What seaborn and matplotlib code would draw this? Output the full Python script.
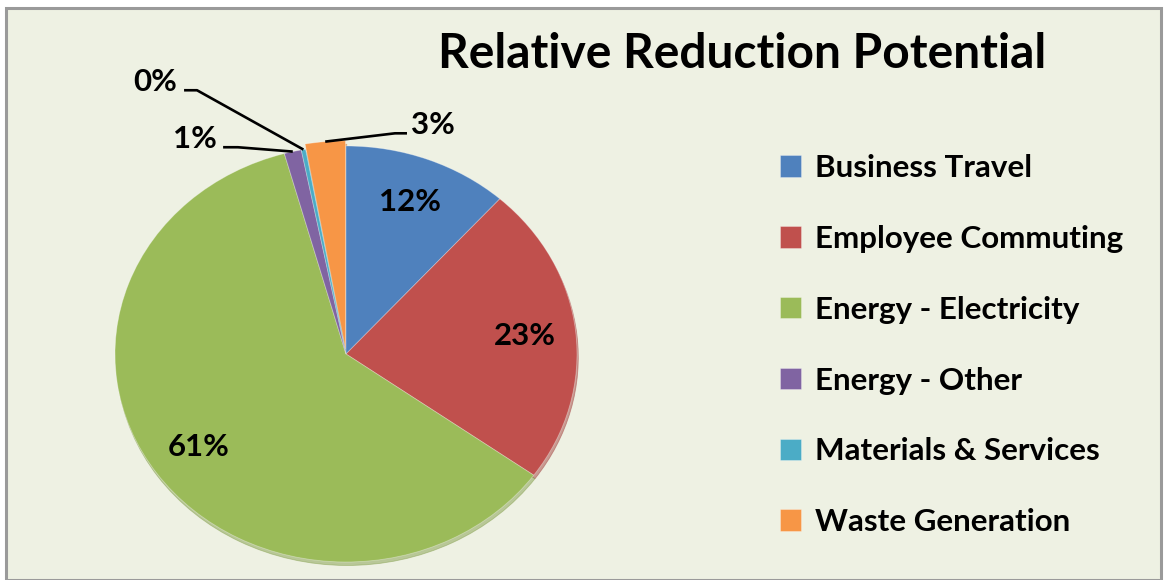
import numpy as np
import matplotlib
matplotlib.use("Agg")
import matplotlib.pyplot as plt
from matplotlib.patches import Rectangle
import seaborn as sns

# Relative reduction potential by emission category (percent)
categories = ["Business Travel", "Employee Commuting", "Energy - Electricity",
              "Energy - Other", "Materials & Services", "Waste Generation"]
shares = [11.6, 23.3, 60.8, 1.2, 0.3, 2.8]
slice_colors = ["#4F81BD", "#C0504D", "#9BBB59", "#8064A2", "#4BACC6", "#F79646"]
title_text = "Relative Reduction Potential"

sns.set_theme(style="white")
plt.rcParams["font.family"] = ["Lato", "DejaVu Sans"]

W, H = 1168, 580
fig = plt.figure(figsize=(W / 100, H / 100), dpi=100)
fig.patch.set_facecolor("white")

# chart area panel with grey frame
fig.patches.append(Rectangle((6 / W, 0), (W - 7.5 - 6) / W, (H - 8) / H,
                             transform=fig.transFigure, facecolor="#EEF1E3",
                             edgecolor="#9A9A9A", linewidth=2.2, zorder=-5))

# pie axes: slightly wider than tall
cx, cy, rx, ry = 346, 354, 231, 208
lim = 1.1
ax = fig.add_axes([(cx - rx * lim) / W, (H - cy - ry * lim) / H,
                   2 * rx * lim / W, 2 * ry * lim / H])
ax.set_facecolor("none")
ax.set_zorder(2)

palette = sns.color_palette(slice_colors)
explode = [0, 0, 0, 0, 0, 0.025]
wedges, _ = ax.pie(shares, colors=palette, startangle=90, counterclock=False,
                   explode=explode, radius=1.0,
                   wedgeprops=dict(linewidth=0.6, edgecolor=(1, 1, 1, 0.35)),
                   shadow=dict(ox=0.004, oy=-0.012, shade=0.15))
ax.set_aspect("auto")
ax.set_xlim(-lim, lim)
ax.set_ylim(-lim, lim)
ax.axis("off")

labels = [f"{v:.0f}%" for v in shares]
label_font = dict(fontsize=22.5, fontweight="bold", color="black")

def mid_point(w, r):
    ang = np.deg2rad((w.theta1 + w.theta2) / 2)
    ox, oy = w.center
    return ox + r * np.cos(ang), oy + r * np.sin(ang)

# labels inside the large slices
for i in range(3):
    x, y = mid_point(wedges[i], 0.78)
    ax.text(x, y, labels[i], ha="center", va="center", **label_font)

# labels outside the thin slices, with leader lines
outer = {
    3: dict(text=(-0.654, 1.034), elbow=(-0.532, -0.468)),
    4: dict(text=(-0.827, 1.308), elbow=(-0.701, -0.645)),
    5: dict(text=(0.377, 1.101), elbow=(0.264, 0.212)),
}
for i, spec in outer.items():
    tx, ty = spec["text"]
    ax.text(tx, ty, labels[i], ha="center", va="center", **label_font)
    ax_, ay_ = mid_point(wedges[i], 1.0)
    ly = ty - 0.04
    x0, x1 = spec["elbow"]
    ax.plot([x0, x1, ax_], [ly, ly, ay_], color="black", lw=1.9,
            solid_capstyle="butt", clip_on=False)

fig.text(742 / W, 1 - 54 / H, title_text, ha="center", va="center",
         fontsize=34.5, fontweight="bold", color="black")

leg = fig.legend(wedges, categories, loc="upper left",
                 bbox_to_anchor=(780 / W, 1 - 154 / H), frameon=False,
                 prop=dict(family=["Lato", "DejaVu Sans"], weight="bold", size=22.6),
                 handlelength=0.68, handleheight=0.68, handletextpad=0.42,
                 labelspacing=1.365, borderpad=0, borderaxespad=0)
for t in leg.get_texts():
    t.set_color("black")

fig.savefig("out.png", dpi=100, facecolor=fig.get_facecolor())
